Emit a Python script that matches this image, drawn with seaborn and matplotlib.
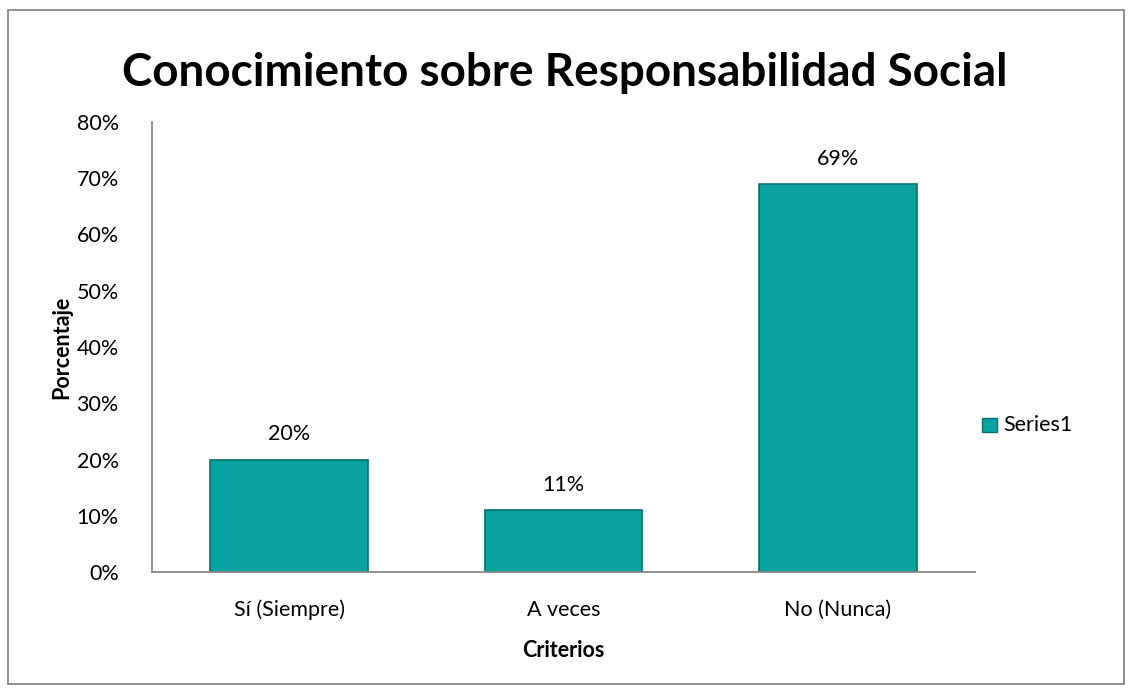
import pandas as pd
import numpy as np
import matplotlib
matplotlib.use("Agg")
import matplotlib.pyplot as plt
import seaborn as sns
from matplotlib.patches import Rectangle

# Data
categorias = ["Sí (Siempre)", "A veces", "No (Nunca)"]
porcentajes = [0.20, 0.11, 0.69]
etiquetas = ["20%", "11%", "69%"]
yticks = [0.0, 0.1, 0.2, 0.3, 0.4, 0.5, 0.6, 0.7, 0.8]
ytick_labels = ["0%", "10%", "20%", "30%", "40%", "50%", "60%", "70%", "80%"]

data = pd.DataFrame({"Criterios": categorias, "Porcentaje": porcentajes})

sns.set_style("white")
plt.rcParams["font.family"] = ["Lato", "DejaVu Sans"]

fig = plt.figure(figsize=(11.3, 6.88), dpi=100)
# axes box: x 152..975, y 122..572 (pixels)
ax = fig.add_axes([152 / 1130, 1 - 572 / 688, 823 / 1130, 450 / 688])

sns.barplot(x="Criterios", y="Porcentaje", data=data, color="#08a3a0",
            saturation=1, width=0.575, edgecolor="#05706e", linewidth=1.2, ax=ax)

# data labels
for i, txt in enumerate(etiquetas):
    ax.text(i, porcentajes[i] + 0.027, txt, ha="center", va="bottom",
            fontsize=15.5, color="black")

ax.set_ylim(0, 0.8)
ax.set_yticks(yticks)
ax.set_yticklabels(ytick_labels, fontsize=15.5, color="black")
ax.tick_params(axis="x", labelsize=15.5, labelcolor="black", length=0, pad=20)
ax.tick_params(axis="y", length=0, pad=24)
ax.set_xlim(-0.5, 2.5)

for s in ["top", "right"]:
    ax.spines[s].set_visible(False)
ax.spines["left"].set_color("#888888")
ax.spines["bottom"].set_color("#888888")
ax.spines["left"].set_linewidth(1.3)
ax.spines["bottom"].set_linewidth(1.3)

ax.set_xlabel("Criterios", fontsize=15.5, fontweight="bold", labelpad=14, color="black")
ax.set_ylabel("Porcentaje", fontsize=15.5, fontweight="bold", labelpad=3, color="black")

fig.text(0.5, 1 - 73 / 688, "Conocimiento sobre Responsabilidad Social", ha="center",
         va="center", fontsize=33, fontweight="bold", color="black")

# legend
fig.patches.append(Rectangle((982 / 1130, 1 - 432 / 688), 15 / 1130, 14 / 688,
                             transform=fig.transFigure,
                             facecolor="#08a3a0", edgecolor="#05706e", lw=1))
fig.text(1003 / 1130, 1 - 425 / 688, "Series1", ha="left", va="center",
         fontsize=15.5, color="black")

# outer border
fig.patches.append(Rectangle((8 / 1130, 4 / 688), 1116 / 1130, 674 / 688,
                             transform=fig.transFigure,
                             fill=False, edgecolor="#888888", lw=1.3))

fig.savefig("out.png", dpi=100)
